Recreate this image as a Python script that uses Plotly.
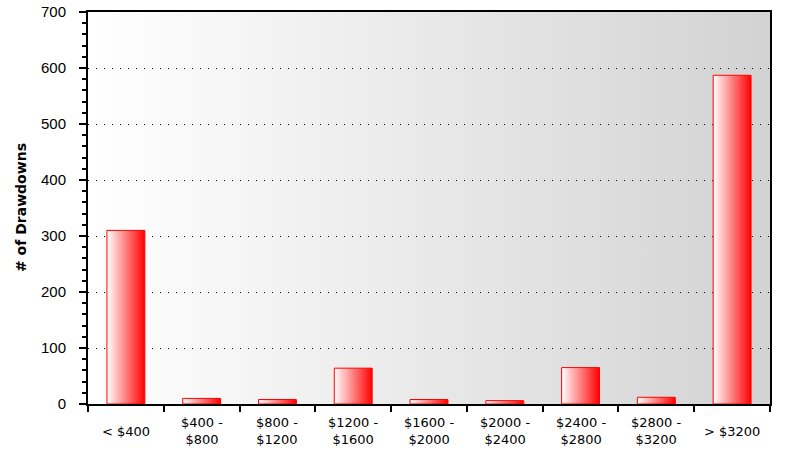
import base64
import plotly.graph_objects as go

# distribution of drawdowns by size
categories = ['< $400', '$400 -<br>$800', '$800 -<br>$1200', '$1200 -<br>$1600', '$1600 -<br>$2000',
              '$2000 -<br>$2400', '$2400 -<br>$2800', '$2800 -<br>$3200', '> $3200']
counts = [310, 10, 8, 64, 8, 6, 65, 12, 587]
y_ticks = [0, 100, 200, 300, 400, 500, 600, 700]

BAR_W = 0.5
AX_FONT = "DejaVu Sans"

fig = go.Figure()

# bars as filled rectangles so they can carry a horizontal white->red gradient
for i, v in enumerate(counts):
    x0, x1 = i - BAR_W / 2, i + BAR_W / 2
    fig.add_trace(go.Scatter(
        x=[x0, x0, x1, x1, x0],
        y=[0, v, v, 0, 0],
        mode='lines',
        fill='toself',
        fillgradient=dict(type='horizontal', colorscale=[[0, '#ffffff'], [1, '#ff0000']]),
        line=dict(color='#ff0000', width=1),
        hoverinfo='skip',
        showlegend=False
    ))

# plot area background: white on the left fading to grey on the right
svg = ('<svg xmlns="http://www.w3.org/2000/svg" width="100" height="100" preserveAspectRatio="none">'
       '<defs><linearGradient id="g" x1="0" y1="0" x2="1" y2="0">'
       '<stop offset="0" stop-color="#ffffff"/><stop offset="1" stop-color="#d2d2d2"/>'
       '</linearGradient></defs><rect width="100" height="100" fill="url(#g)"/></svg>')
bg_src = 'data:image/svg+xml;base64,' + base64.b64encode(svg.encode()).decode()
fig.add_layout_image(dict(source=bg_src, xref='paper', yref='paper', x=0, y=1,
                          sizex=1, sizey=1, sizing='stretch', xanchor='left', yanchor='top',
                          layer='below'))

boundaries = [i - 0.5 for i in range(len(categories) + 1)]

# category labels, centred under each bar
for i, lab in enumerate(categories):
    fig.add_annotation(x=i, xref='x', y=0, yref='paper', yshift=-27, yanchor='middle',
                       text=lab, showarrow=False, align='center',
                       font=dict(family=AX_FONT, size=13, color='black'))

fig.add_annotation(x=0, xref='paper', xshift=-67, xanchor='center', y=0.5, yref='paper',
                   text='<b># of Drawdowns</b>', textangle=-90, showarrow=False,
                   font=dict(family=AX_FONT, size=14, color='black'))

tick_common = dict(tickcolor='black', tickwidth=2, showgrid=False, zeroline=False, automargin=False)

fig.update_layout(
    width=812, height=462,
    margin=dict(l=88, r=42, t=12, b=58),
    paper_bgcolor='white',
    plot_bgcolor='rgba(0,0,0,0)',
    xaxis=dict(range=[-0.5, 8.5], tickvals=boundaries, showticklabels=False, ticks='outside', ticklen=6,
               showline=True, linewidth=2, linecolor='black', mirror=True, **tick_common),
    xaxis2=dict(overlaying='x', matches='x', anchor='y', side='bottom', tickvals=boundaries,
                showticklabels=False, ticks='inside', ticklen=7, showline=False, **tick_common),
    xaxis3=dict(overlaying='x', matches='x', anchor='y', side='top', tickvals=boundaries[1:-1],
                showticklabels=False, ticks='inside', ticklen=6, showline=False, **tick_common),
    yaxis=dict(range=[0, 700], tickvals=y_ticks, ticks='outside', ticklen=7, tickcolor='black', tickwidth=2,
               minor=dict(dtick=20, ticks='outside', ticklen=4, tickcolor='black', tickwidth=2),
               showline=True, linewidth=2, linecolor='black', mirror=True, automargin=False,
               showgrid=True, gridcolor='black', gridwidth=1, griddash='1px,7px', zeroline=False,
               ticklabelstandoff=10,
               tickfont=dict(family='Arial, Liberation Sans', size=15, color='black')),
    yaxis2=dict(overlaying='y', matches='y', anchor='x', side='right', tickvals=y_ticks,
                showticklabels=False, ticks='inside', ticklen=6,
                minor=dict(dtick=20, ticks='inside', ticklen=3, tickcolor='black', tickwidth=2),
                showline=False, **tick_common),
    yaxis3=dict(overlaying='y', matches='y', anchor='x', side='left', tickvals=y_ticks,
                showticklabels=False, ticks='inside', ticklen=5,
                minor=dict(dtick=20, ticks='inside', ticklen=3, tickcolor='black', tickwidth=2),
                showline=False, **tick_common),
)

fig.write_html("out.html", config={'displayModeBar': False},
               post_script="document.body.style.margin='0';")
